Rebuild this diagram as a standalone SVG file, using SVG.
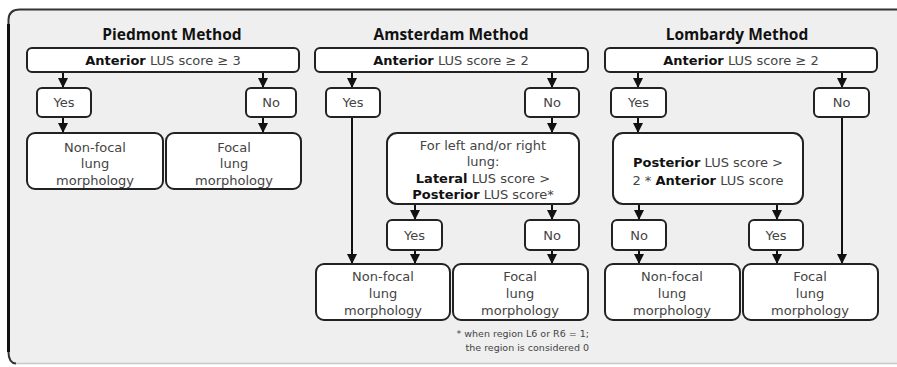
<svg xmlns="http://www.w3.org/2000/svg" width="897" height="367" viewBox="0 0 897 367">
<defs>
<style>
.box{fill:#fff;stroke:#222;stroke-width:2}
.t{font-family:"DejaVu Sans",sans-serif;font-size:13px;fill:#444;text-anchor:middle}
.b{font-weight:bold;fill:#111}
.title{font-family:"Open Sans","DejaVu Sans",sans-serif;font-size:15.5px;font-weight:bold;fill:#111;text-anchor:middle}
.fn{font-family:"DejaVu Sans",sans-serif;font-size:9.5px;fill:#444;text-anchor:end}
.c{stroke:#111;stroke-width:2;fill:none;marker-end:url(#ah)}
</style>
<marker id="ah" viewBox="0 0 10 10" refX="10" refY="5" markerWidth="5" markerHeight="5" orient="auto" markerUnits="strokeWidth">
<path d="M0,0 L10,5 L0,10 z" fill="#111"/>
</marker>
</defs>
<rect width="897" height="367" fill="#fff"/>
<g id="frame">
<path d="M8.5,20 Q8.5,9.5 20,9.5 L897,9.5 L897,363 L20,363 Q8.5,363 8.5,352 Z" fill="#efefef"/>
<path d="M897,9.5 L20,9.5 Q8.5,9.5 8.5,20 L8.5,352 Q8.5,363 16,363.5" fill="none" stroke="#333" stroke-width="2"/>
<path d="M8.5,24 L8.5,352" stroke="#111" stroke-width="3"/>
<path d="M16,363.5 L897,363.5" stroke="#c8c8c8" stroke-width="1.5"/>
</g>
<g id="titles">
<text class="title" x="172" y="40">Piedmont Method</text>
<text class="title" x="451" y="40">Amsterdam Method</text>
<text class="title" x="737" y="40">Lombardy Method</text>
</g>
<g id="connectors">
<line class="c" x1="63" y1="72" x2="63" y2="88"/>
<line class="c" x1="263" y1="72" x2="263" y2="88"/>
<line class="c" x1="63" y1="117" x2="63" y2="133"/>
<line class="c" x1="263" y1="117" x2="263" y2="133"/>
<line class="c" x1="352" y1="72" x2="352" y2="88"/>
<line class="c" x1="552" y1="72" x2="552" y2="88"/>
<line class="c" x1="352" y1="117" x2="352" y2="264"/>
<line class="c" x1="552" y1="117" x2="552" y2="133"/>
<line class="c" x1="415" y1="204" x2="415" y2="220"/>
<line class="c" x1="552" y1="204" x2="552" y2="220"/>
<line class="c" x1="415" y1="250" x2="415" y2="264"/>
<line class="c" x1="552" y1="250" x2="552" y2="264"/>
<line class="c" x1="638" y1="72" x2="638" y2="88"/>
<line class="c" x1="842" y1="72" x2="842" y2="88"/>
<line class="c" x1="638" y1="117" x2="638" y2="133"/>
<line class="c" x1="842" y1="117" x2="842" y2="264"/>
<line class="c" x1="639" y1="204" x2="639" y2="220"/>
<line class="c" x1="777" y1="204" x2="777" y2="220"/>
<line class="c" x1="639" y1="250" x2="639" y2="264"/>
<line class="c" x1="777" y1="250" x2="777" y2="264"/>
</g>
<g id="p-top"><rect class="box" x="27" y="48" width="272" height="24" rx="5"/><text class="t" x="163" y="64.5"><tspan class="b">Anterior</tspan> LUS score ≥ 3</text></g>
<g id="p-yes"><rect class="box" x="37" y="88" width="54" height="29" rx="5"/><text class="t" x="64" y="107">Yes</text></g>
<g id="p-no"><rect class="box" x="246" y="88" width="50" height="29" rx="5"/><text class="t" x="271" y="107">No</text></g>
<g id="p-nonfocal"><rect class="box" x="27" y="133" width="136" height="56" rx="8"/><text class="t" x="95" y="151.5">Non-focal</text><text class="t" x="95" y="168">lung</text><text class="t" x="95" y="184.5">morphology</text></g>
<g id="p-focal"><rect class="box" x="166" y="133" width="135" height="56" rx="8"/><text class="t" x="234" y="151.5">Focal</text><text class="t" x="234" y="168">lung</text><text class="t" x="234" y="184.5">morphology</text></g>

<g id="a-top"><rect class="box" x="315" y="48" width="273" height="24" rx="5"/><text class="t" x="451" y="64.5"><tspan class="b">Anterior</tspan> LUS score ≥ 2</text></g>
<g id="a-yes"><rect class="box" x="326" y="88" width="54" height="29" rx="5"/><text class="t" x="353" y="107">Yes</text></g>
<g id="a-no"><rect class="box" x="525" y="88" width="54" height="29" rx="5"/><text class="t" x="552" y="107">No</text></g>
<g id="a-cond"><rect class="box" x="387" y="133" width="192" height="71" rx="10"/><text class="t" x="483" y="149.5">For left and/or right</text><text class="t" x="483" y="166">lung:</text><text class="t" x="483" y="182.5"><tspan class="b">Lateral</tspan> LUS score &gt;</text><text class="t" x="483" y="199"><tspan class="b">Posterior</tspan> LUS score*</text></g>
<g id="a-yes2"><rect class="box" x="387" y="220" width="55" height="30" rx="5"/><text class="t" x="414.5" y="239.5">Yes</text></g>
<g id="a-no2"><rect class="box" x="525" y="220" width="54" height="30" rx="5"/><text class="t" x="552" y="239.5">No</text></g>
<g id="a-nonfocal"><rect class="box" x="316" y="264" width="134" height="56" rx="8"/><text class="t" x="383" y="280.5">Non-focal</text><text class="t" x="383" y="297.5">lung</text><text class="t" x="383" y="314.5">morphology</text></g>
<g id="a-focal"><rect class="box" x="453" y="264" width="135" height="56" rx="8"/><text class="t" x="520" y="280.5">Focal</text><text class="t" x="520" y="297.5">lung</text><text class="t" x="520" y="314.5">morphology</text></g>
<g id="a-note"><text class="fn" x="589" y="336.5">* when region L6 or R6 = 1;</text><text class="fn" x="589" y="350.5">the region is considered 0</text></g>

<g id="l-top"><rect class="box" x="605" y="48" width="272" height="24" rx="5"/><text class="t" x="741" y="64.5"><tspan class="b">Anterior</tspan> LUS score ≥ 2</text></g>
<g id="l-yes"><rect class="box" x="611" y="88" width="55" height="29" rx="5"/><text class="t" x="638.5" y="107">Yes</text></g>
<g id="l-no"><rect class="box" x="814" y="88" width="55" height="29" rx="5"/><text class="t" x="841.5" y="107">No</text></g>
<g id="l-cond"><rect class="box" x="613" y="133" width="190" height="71" rx="10"/><text class="t" x="708" y="166.5"><tspan class="b">Posterior</tspan> LUS score &gt;</text><text class="t" x="708" y="184.5">2 * <tspan class="b">Anterior</tspan> LUS score</text></g>
<g id="l-no2"><rect class="box" x="612" y="220" width="54" height="30" rx="5"/><text class="t" x="639" y="239.5">No</text></g>
<g id="l-yes2"><rect class="box" x="749" y="220" width="54" height="30" rx="5"/><text class="t" x="776" y="239.5">Yes</text></g>
<g id="l-nonfocal"><rect class="box" x="605" y="264" width="135" height="56" rx="8"/><text class="t" x="672" y="280.5">Non-focal</text><text class="t" x="672" y="297.5">lung</text><text class="t" x="672" y="314.5">morphology</text></g>
<g id="l-focal"><rect class="box" x="743" y="264" width="135" height="56" rx="8"/><text class="t" x="810" y="280.5">Focal</text><text class="t" x="810" y="297.5">lung</text><text class="t" x="810" y="314.5">morphology</text></g>
</svg>
